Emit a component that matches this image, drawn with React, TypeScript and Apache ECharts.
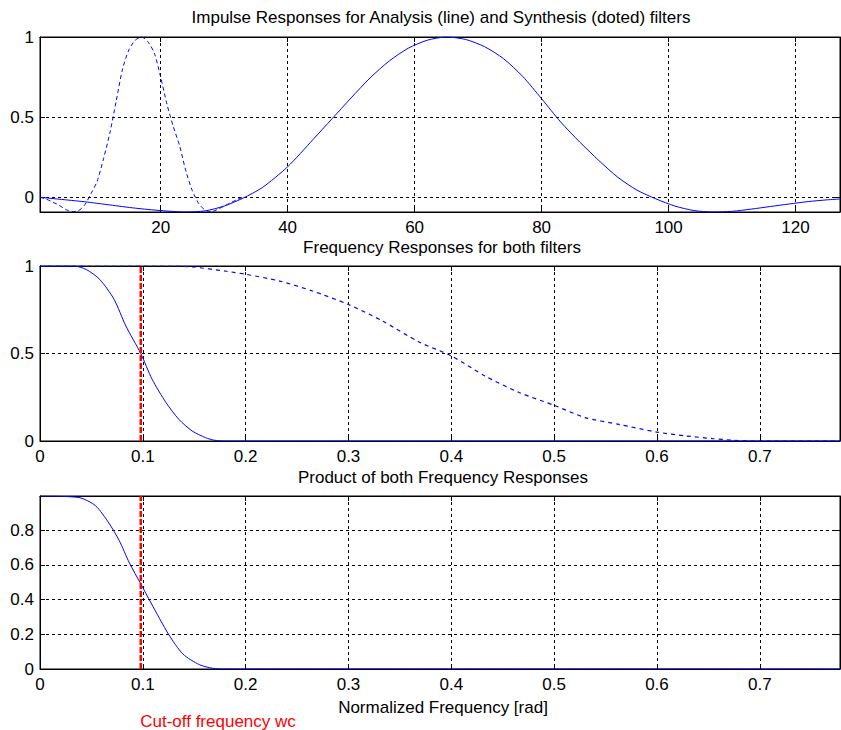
import React, { useEffect, useRef } from "react";
import * as echarts from "echarts";

// ---- Data ----
// Top: impulse responses (sample index)
const analysisImpX = [1, 4, 8, 12, 16, 20, 24, 27, 30, 33, 36, 40, 44, 47, 50, 53, 56, 59, 62, 65, 68, 71, 74, 77, 80, 83, 86, 89, 92, 95, 98, 101, 104, 107, 110, 113, 116, 119, 122, 125, 127];
const analysisImpY = [0, -0.012, -0.028, -0.048, -0.068, -0.083, -0.092, -0.085, -0.055, -0.005, 0.06, 0.19, 0.36, 0.49, 0.62, 0.745, 0.85, 0.93, 0.98, 1.0, 0.985, 0.94, 0.865, 0.755, 0.615, 0.47, 0.345, 0.23, 0.125, 0.045, -0.01, -0.055, -0.083, -0.092, -0.088, -0.074, -0.058, -0.042, -0.027, -0.016, -0.011];

const synthesisImpX = [1, 2, 3, 4, 5, 6, 7, 8, 9, 10, 11, 12, 13, 14, 15, 16, 17, 18, 19, 20, 21, 22, 23, 24, 25, 26, 27, 28, 29, 30, 31, 32, 33];
const synthesisImpY = [0, -0.012, -0.03, -0.05, -0.075, -0.09, -0.085, -0.05, 0.02, 0.1, 0.24, 0.4, 0.6, 0.8, 0.92, 0.98, 1.0, 0.97, 0.9, 0.75, 0.58, 0.44, 0.32, 0.16, 0.04, -0.04, -0.08, -0.09, -0.075, -0.055, -0.035, -0.015, 0];

// Middle: frequency responses
const analysisFreqX = [0, 0.033, 0.045, 0.058, 0.072, 0.0835, 0.098, 0.109, 0.1225, 0.135, 0.148, 0.161, 0.169, 0.18, 0.778];
const analysisFreqY = [1, 1, 0.98, 0.924, 0.81, 0.657, 0.5, 0.353, 0.22, 0.124, 0.057, 0.019, 0.005, 0, 0];

const synthesisFreqX = [0, 0.13, 0.148, 0.181, 0.2, 0.233, 0.265, 0.3, 0.333, 0.3686, 0.4, 0.433, 0.466, 0.5, 0.53, 0.563, 0.6, 0.628, 0.654, 0.673, 0.69, 0.778];
const synthesisFreqY = [1, 1, 0.995, 0.97, 0.953, 0.914, 0.857, 0.78, 0.686, 0.566, 0.486, 0.371, 0.277, 0.204, 0.134, 0.095, 0.051, 0.029, 0.014, 0.005, 0, 0];

// Bottom: product
const productX = [0, 0.038, 0.054, 0.067, 0.077, 0.087, 0.098, 0.108, 0.125, 0.139, 0.155, 0.168, 0.18, 0.778];
const productY = [0.996, 0.987, 0.94, 0.84, 0.74, 0.61, 0.49, 0.38, 0.2, 0.086, 0.025, 0.004, 0, 0];

const wc = 0.098;

const titles = [
  "Impulse Responses for Analysis (line) and Synthesis (doted) filters",
  "Frequency Responses for both filters",
  "Product of both Frequency Responses",
];
const xLabel = "Normalized Frequency [rad]";
const cutoffLabel = "Cut-off frequency wc";

const FONT = '"Liberation Sans", Arial, Helvetica, sans-serif';
const FS = 17;

const pairs = (xs: number[], ys: number[]) => xs.map((x, i) => [x, ys[i]]);

export default function App() {
  const ref = useRef<HTMLDivElement>(null);
  useEffect(() => {
    if (!ref.current) return;
    const chart = echarts.init(ref.current, null, { renderer: "svg" });

    const grids = [
      { left: 40, top: 37, width: 800, height: 175 },
      { left: 40, top: 266, width: 800, height: 175 },
      { left: 40, top: 496, width: 800, height: 173 },
    ].map((g) => ({ ...g, show: true, borderColor: "#000", borderWidth: 1, backgroundColor: "#fff" }));

    const gridLine = { show: true, lineStyle: { color: "#000", type: [3, 3], width: 1 } };
    const label = { color: "#000", fontFamily: FONT, fontSize: FS };
    const tick = { show: true, inside: true, length: 5, lineStyle: { color: "#000" } };
    const line = { show: true, onZero: false, lineStyle: { color: "#000", width: 1 } };

    const xRanges = [
      { min: 1, max: 127, splitNumber: 6 },
      { min: 0, max: 0.778, interval: 0.1 },
      { min: 0, max: 0.778, interval: 0.1 },
    ];
    const yRanges = [
      { min: -0.092, max: 1, splitNumber: 2 },
      { min: 0, max: 1, interval: 0.5 },
      { min: 0, max: 0.996, interval: 0.2 },
    ];

    const xAxis: any[] = [];
    const yAxis: any[] = [];
    xRanges.forEach((r, i) => {
      xAxis.push({
        type: "value", gridIndex: i, position: "bottom", ...r,
        axisLine: line, axisTick: tick, splitLine: gridLine,
        axisLabel: { ...label, margin: 7, showMinLabel: i !== 0, showMaxLabel: false },
      });
    });
    yRanges.forEach((r, i) => {
      yAxis.push({
        type: "value", gridIndex: i, position: "left", ...r,
        axisLine: line, axisTick: tick, splitLine: gridLine,
        axisLabel: { ...label, margin: 6, showMinLabel: i !== 0, showMaxLabel: i !== 2 },
      });
    });
    xRanges.forEach((r, i) => {
      xAxis.push({
        type: "value", gridIndex: i, position: "top", ...r,
        axisLine: line, axisTick: tick, splitLine: { show: false }, axisLabel: { show: false },
      });
    });
    yRanges.forEach((r, i) => {
      yAxis.push({
        type: "value", gridIndex: i, position: "right", ...r,
        axisLine: line, axisTick: tick, splitLine: { show: false }, axisLabel: { show: false },
      });
    });

    const blue = "#0000ff";
    const red = "#ff0000";
    const base = { type: "line", showSymbol: false, symbol: "none", silent: true };
    const sm = 0.25;

    const series: any[] = [
      { ...base, xAxisIndex: 0, yAxisIndex: 0, data: pairs(analysisImpX, analysisImpY), smooth: sm, lineStyle: { color: blue, width: 1 } },
      { ...base, xAxisIndex: 0, yAxisIndex: 0, data: pairs(synthesisImpX, synthesisImpY), smooth: sm, lineStyle: { color: blue, width: 1, type: [4, 3] } },
      { ...base, xAxisIndex: 1, yAxisIndex: 1, data: pairs(analysisFreqX, analysisFreqY), smooth: sm, lineStyle: { color: blue, width: 1 } },
      { ...base, xAxisIndex: 1, yAxisIndex: 1, data: pairs(synthesisFreqX, synthesisFreqY), smooth: sm, lineStyle: { color: blue, width: 1.2, type: [4, 4] } },
      { ...base, xAxisIndex: 1, yAxisIndex: 1, data: [[wc, 0], [wc, 1]], lineStyle: { color: red, width: 2.5, type: [6, 2] } },
      { ...base, xAxisIndex: 2, yAxisIndex: 2, data: pairs(productX, productY), smooth: sm, lineStyle: { color: blue, width: 1 } },
      { ...base, xAxisIndex: 2, yAxisIndex: 2, data: [[wc, 0], [wc, 0.996]], lineStyle: { color: red, width: 2.5, type: [6, 2] } },
    ];

    const txt = (t: string, x: number, y: number, color = "#000") => ({
      type: "text", x, y,
      style: { text: t, fill: color, font: `${FS}px ${FONT}`, textAlign: "center", textVerticalAlign: "middle" },
    });

    chart.setOption({
      animation: false,
      backgroundColor: "#fff",
      grid: grids,
      xAxis,
      yAxis,
      series,
      graphic: [
        txt(titles[0], 441, 17),
        txt(titles[1], 442, 247),
        txt(titles[2], 443, 477),
        txt(xLabel, 443, 707),
        txt(cutoffLabel, 218, 721, red),
      ],
    });
    return () => chart.dispose();
  }, []);
  return <div ref={ref} style={{ position: "fixed", left: 0, top: 0, width: 841, height: 730, background: "#fff" }} />;
}
